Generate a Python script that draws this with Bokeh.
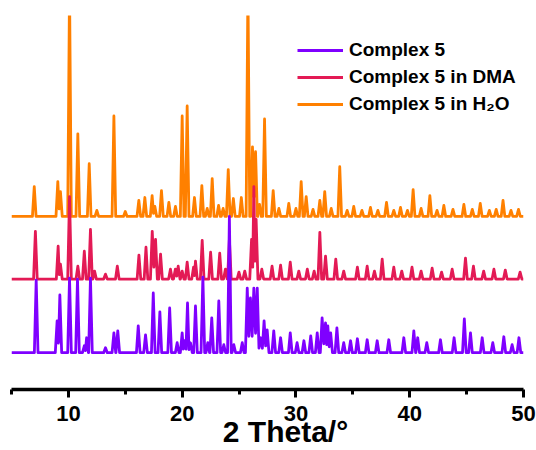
from bokeh.plotting import figure
from bokeh.models import Range1d, FixedTicker, Legend, LegendItem
from bokeh.embed import file_html
from bokeh.resources import INLINE

# ---- data: (2theta position, intensity above its baseline) ----
series_names = ["Complex 5", "Complex 5 in DMA", "Complex 5 in H₂O"]

complex5_pos = [7.17, 9.01, 9.25, 10.1, 10.8, 11.4, 11.6, 11.94, 13.26, 14.0, 14.34, 16.14, 16.78,
                17.46, 18.04, 18.9, 19.56, 20.0, 20.2, 20.47, 20.73, 21.17, 21.82, 22.25, 22.6,
                23.22, 23.66, 24.15, 24.54, 25.28, 25.72, 26.0, 26.3, 26.6, 26.9, 27.2, 27.47,
                28.05, 28.65, 29.5, 30.1, 30.7, 31.3, 31.87, 32.3, 32.6, 32.8, 33.05, 33.6, 34.2,
                34.8, 35.4, 36.26, 37.14, 38.16, 39.48, 40.36, 40.7, 41.5, 42.7, 43.9, 44.8,
                45.34, 46.37, 47.3, 48.27, 49.0, 49.6]
complex5_int = [73, 32, 58, 75, 74, 7, 15, 75, 5, 20, 22, 27, 18,
                60, 41, 45, 10, 20, 12, 50, 10, 47, 76, 10, 35,
                52, 8, 137, 8, 10, 65, 55, 65, 65, 15, 32, 23,
                22, 15, 20, 10, 12, 17, 20, 35, 30, 27, 20, 25, 10,
                12, 14, 13, 12, 13, 15, 22, 15, 10, 13, 15, 34,
                20, 15, 10, 16, 8, 15]

dma_pos = [7.1, 9.1, 9.3, 10.1, 10.83, 11.4, 11.94, 12.3, 13.26, 14.3, 16.2, 16.82, 17.37,
           17.66, 18.1, 18.97, 19.4, 19.65, 20.0, 20.44, 21.0, 21.17, 21.76, 22.5, 23.3, 23.8,
           24.15, 24.99, 25.5, 26.1, 26.3, 26.5, 27.0, 27.9, 28.65, 29.5, 30.25, 31.0, 31.6,
           32.1, 32.6, 33.5, 34.2, 35.4, 36.26, 36.9, 37.58, 38.6, 39.3, 40.2, 41.0, 41.97,
           42.8, 43.73, 44.9, 45.6, 46.5, 47.4, 48.4, 49.7]
dma_int = [48, 33, 15, 83, 13, 28, 50, 8, 5, 13, 24, 32, 48,
           40, 25, 10, 10, 13, 8, 17, 12, 18, 39, 27, 26, 10,
           40, 7, 8, 40, 93, 60, 10, 13, 14, 17, 8, 10, 8,
           47, 23, 20, 8, 12, 13, 8, 20, 12, 8, 12, 8, 11,
           7, 10, 21, 13, 8, 10, 9, 7]

h2o_pos = [7.0, 9.07, 9.3, 10.1, 10.83, 11.83, 12.5, 14.0, 15.0, 16.19, 16.72, 17.36, 17.6,
           18.18, 18.83, 19.41, 20.0, 20.44, 21.08, 21.73, 22.2, 22.64, 23.2, 23.6, 24.05,
           24.5, 25.2, 25.78, 26.18, 26.45, 26.8, 27.24, 28.0, 28.5, 29.37, 30.0, 30.46, 30.9,
           31.5, 32.1, 32.53, 33.1, 33.85, 34.5, 35.08, 35.8, 36.55, 37.2, 37.96, 38.6, 39.19,
           39.8, 40.3, 41.0, 41.77, 42.4, 43.0, 43.8, 44.76, 45.5, 46.2, 47.0, 47.6, 48.2,
           48.9, 49.56]
h2o_int = [30, 35, 25, 230, 83, 53, 6, 101, 5, 16, 19, 21, 10,
           26, 14, 10, 101, 111, 19, 31, 8, 38, 11, 8, 47,
           18, 19, 230, 70, 65, 12, 98, 26, 8, 13, 8, 35, 20,
           7, 16, 25, 8, 50, 6, 10, 6, 9, 6, 14, 6, 9,
           6, 27, 8, 21, 6, 11, 7, 12, 7, 13, 6, 7, 16,
           6, 7]

x_ticks = [10, 20, 30, 40, 50]
x_minor_ticks = [5, 15, 25, 35, 45]
x_title = "2 Theta/°"

colors = ["#7F00FF", "#E31A55", "#FF8000"]
offsets = [0, 74, 137]
HALF = 0.16  # half width of a peak foot (deg)


def profile(pos, inten, offset, x0=5.0, x1=50.0):
    pairs = sorted(zip(pos, inten))
    xs, ys = [x0], [offset]
    for i, (p, h) in enumerate(pairs):
        if i == 0 or p - pairs[i - 1][0] > 2 * HALF:
            xs.append(p - HALF); ys.append(offset)
        xs.append(p); ys.append(offset + h)
        if i + 1 < len(pairs) and pairs[i + 1][0] - p <= 2 * HALF:
            xs.append((p + pairs[i + 1][0]) / 2)
            ys.append(offset + 0.3 * min(h, pairs[i + 1][1]))
        else:
            xs.append(p + HALF); ys.append(offset)
    xs.append(x1); ys.append(offset)
    return xs, ys


FONT = "Liberation Sans"

p = figure(width=536, height=450, output_backend="svg", toolbar_location=None,
           x_range=Range1d(5, 50), y_range=Range1d(-37, 339),
           y_axis_location=None, min_border_left=11, min_border_right=13,
           min_border_top=15, min_border_bottom=59)
p.outline_line_color = None
p.grid.visible = False
p.background_fill_color = "white"

data = [(complex5_pos, complex5_int), (dma_pos, dma_int), (h2o_pos, h2o_int)]
renderers = [None, None, None]
for idx in [2, 1, 0]:
    xs, ys = profile(data[idx][0], data[idx][1], offsets[idx])
    renderers[idx] = p.line(xs, ys, line_color=colors[idx], line_width=2.8, line_join="round")

ax = p.xaxis[0]
ax.ticker = FixedTicker(ticks=x_ticks, minor_ticks=x_minor_ticks)
ax.axis_line_width = 3.5
ax.axis_line_color = "black"
ax.major_tick_line_width = 3
ax.minor_tick_line_width = 3
ax.major_tick_in = 0
ax.major_tick_out = 8
ax.minor_tick_in = 0
ax.minor_tick_out = 5
ax.major_label_text_font = FONT
ax.major_label_text_font_style = "bold"
ax.major_label_text_font_size = "22px"
ax.major_label_text_color = "black"
ax.major_label_standoff = 8
ax.major_label_text_line_height = 0.6
# leading em + thin space shifts the centred title to the right like the reference
ax.axis_label = "\u2003\u2009" + x_title
ax.axis_label_text_font = FONT
ax.axis_label_text_font_style = "bold"
ax.axis_label_text_font_size = "30px"
ax.axis_label_text_color = "black"
ax.axis_label_text_line_height = 0.6
ax.axis_label_standoff = -9

legend = Legend(items=[LegendItem(label=series_names[i], renderers=[renderers[i]]) for i in range(3)],
                location=(286, 274), orientation="vertical",
                glyph_width=46, glyph_height=20, label_height=20, spacing=5,
                padding=0, margin=0, label_standoff=6,
                label_text_font=FONT, label_text_font_style="bold",
                label_text_font_size="19px", label_text_color="black",
                border_line_color=None, background_fill_alpha=0)
p.add_layout(legend)

open("out.html", "w").write(file_html(p, INLINE))
